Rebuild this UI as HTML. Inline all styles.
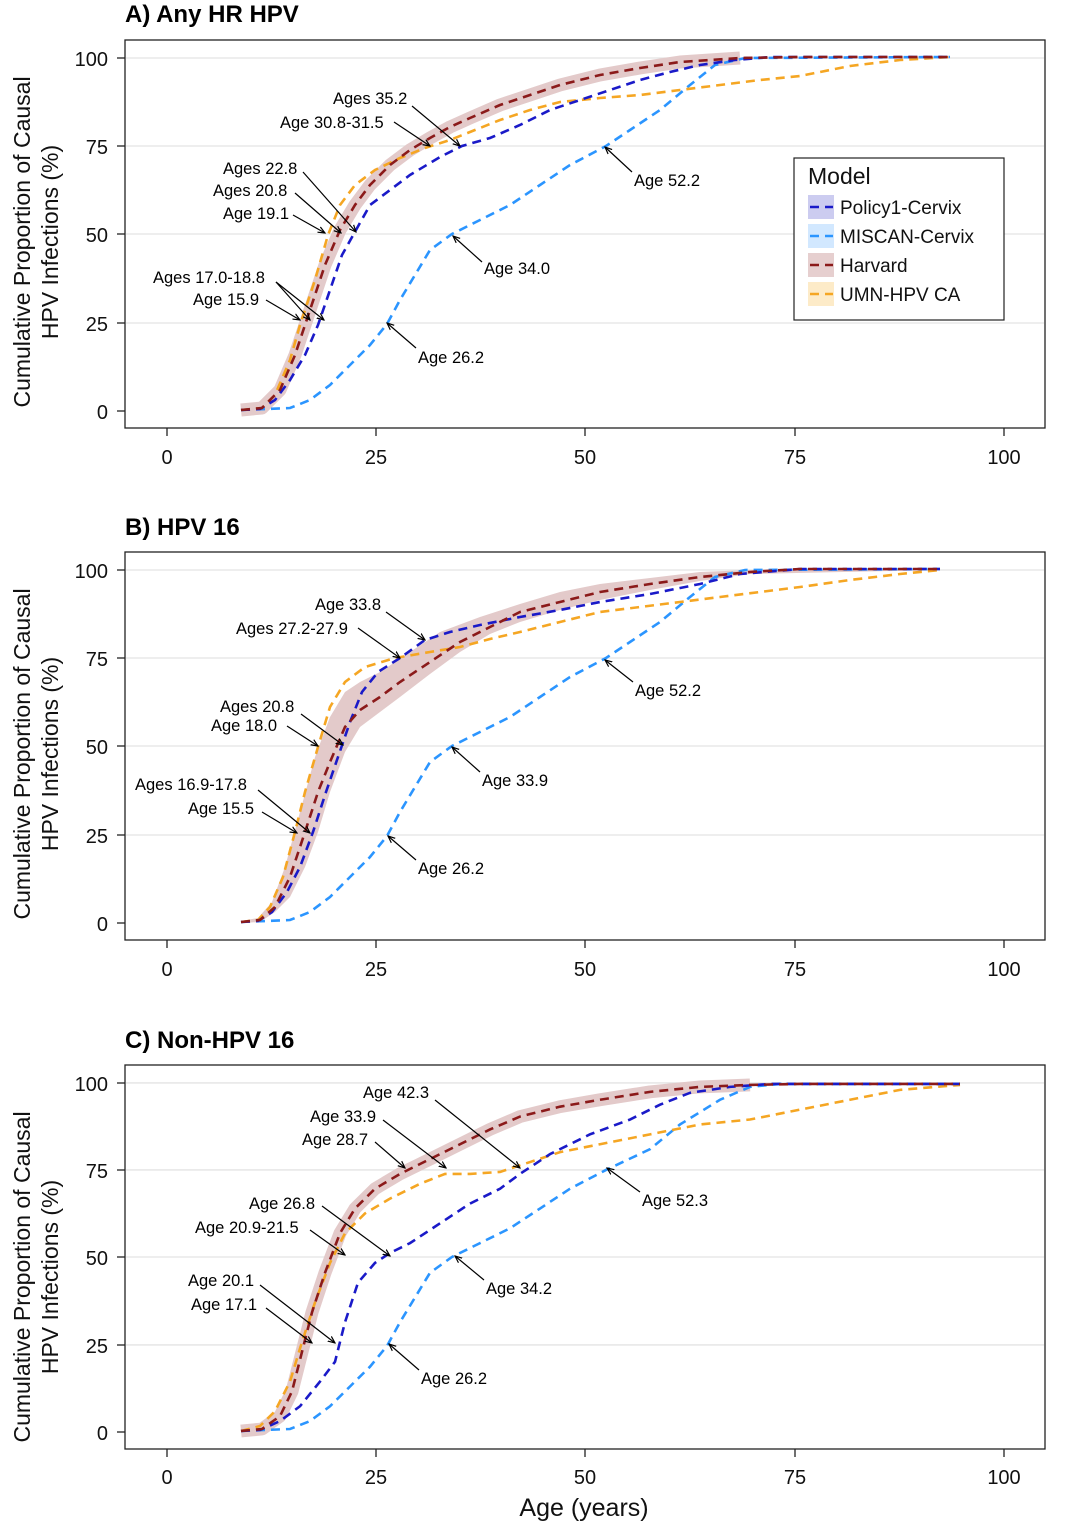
<!DOCTYPE html>
<html><head><meta charset="utf-8"><style>
body{margin:0;background:#fff}
svg{display:block;font-family:"Liberation Sans",Arial,sans-serif}
.t{font-size:16.5px;fill:#000}
.tk{font-size:20px;fill:#111}
.ti{font-size:24px;font-weight:bold}
.ar{stroke:#000;stroke-width:1.2;fill:none;marker-end:url(#ah)}
.grid{stroke:#e3e3e3;stroke-width:1.3}
.box{fill:none;stroke:#222;stroke-width:1.3}
.c{fill:none;stroke-width:2.6;stroke-dasharray:9 6}
.b1{stroke:#1a1ac8}.b2{stroke:#2b95ff}.b3{stroke:#8b1a1a}.b4{stroke:#f5a623}
.band{fill:none;stroke:#e3caca;stroke-width:13;stroke-linejoin:round;stroke-linecap:butt}
</style></head><body>
<svg width="1072" height="1525" viewBox="0 0 1072 1525">
<defs><marker id="ah" markerWidth="8" markerHeight="8" refX="7" refY="4" orient="auto" markerUnits="userSpaceOnUse"><path d="M0,1 L7,4 L0,7" fill="none" stroke="#000" stroke-width="1.2"/></marker>
<g id="frame">
<line class="grid" x1="126" x2="1044" y1="58" y2="58"/><line class="grid" x1="126" x2="1044" y1="146" y2="146"/><line class="grid" x1="126" x2="1044" y1="234" y2="234"/><line class="grid" x1="126" x2="1044" y1="323" y2="323"/>
<rect class="box" x="125" y="40" width="920" height="388"/>
<g stroke="#222" stroke-width="1.3"><line x1="117" x2="125" y1="58" y2="58"/><line x1="117" x2="125" y1="146" y2="146"/><line x1="117" x2="125" y1="234" y2="234"/><line x1="117" x2="125" y1="323" y2="323"/><line x1="117" x2="125" y1="411" y2="411"/>
<line x1="167" x2="167" y1="428" y2="436"/><line x1="376" x2="376" y1="428" y2="436"/><line x1="585" x2="585" y1="428" y2="436"/><line x1="795" x2="795" y1="428" y2="436"/><line x1="1004" x2="1004" y1="428" y2="436"/></g>
<g class="tk" text-anchor="end"><text x="108" y="66">100</text><text x="108" y="154">75</text><text x="108" y="242">50</text><text x="108" y="331">25</text><text x="108" y="419">0</text></g>
<g class="tk" text-anchor="middle"><text x="167" y="464">0</text><text x="376" y="464">25</text><text x="585" y="464">50</text><text x="795" y="464">75</text><text x="1004" y="464">100</text></g>
<g font-size="23" text-anchor="middle" fill="#111"><text transform="translate(30,242) rotate(-90)">Cumulative Proportion of Causal</text><text transform="translate(58,242) rotate(-90)">HPV Infections (%)</text></g>
</g></defs>

<text class="ti" x="125" y="22">A) Any HR HPV</text>
<use href="#frame"/>
<polyline class="band" points="241,410 262,408 280,390 295,355 310,310 325,265 340,230 355,205 370,185 390,165 410,150 430,138 450,127 470,118 500,105 530,95 560,85 600,75 640,68 680,62 740,58"/>
<polyline class="c b2" points="241,410 290,408 310,400 330,385 350,365 370,345 387,324 400,300 415,275 430,250 452,234 480,220 510,205 540,185 570,165 606,146 630,130 660,110 690,85 715,65 745,58 950,57"/>
<polyline class="c b4" points="241,410 262,408 275,395 290,360 300,325 315,280 328,235 340,205 355,185 375,170 400,158 425,148 450,140 470,132 500,120 530,110 560,102 600,98 640,95 680,90 720,85 760,80 800,76 850,66 900,60 950,57"/>
<polyline class="c b1" points="241,410 260,409 275,400 290,380 305,355 318,325 330,290 342,255 356,230 370,205 390,190 410,175 440,157 462,146 490,138 520,125 550,110 580,100 610,90 640,80 670,72 700,65 735,60 770,57 950,57"/>
<polyline class="c b3" points="241,410 262,408 280,390 295,355 310,310 325,265 340,230 355,205 370,185 390,165 410,150 430,138 450,127 470,118 500,105 530,95 560,85 600,75 640,68 680,62 740,58 800,57 950,57"/>
<g class="t">
<text x="333" y="104">Ages 35.2</text><text x="280" y="128">Age 30.8-31.5</text><text x="223" y="174">Ages 22.8</text><text x="213" y="196">Ages 20.8</text><text x="223" y="219">Age 19.1</text><text x="153" y="283">Ages 17.0-18.8</text><text x="193" y="305">Age 15.9</text><text x="634" y="186">Age 52.2</text><text x="484" y="274">Age 34.0</text><text x="418" y="363">Age 26.2</text></g>
<path class="ar" d="M412,106 L460,146"/><path class="ar" d="M394,122 L430,146"/><path class="ar" d="M303,172 L356,232"/><path class="ar" d="M295,193 L341,233"/><path class="ar" d="M293,215 L325,233"/><path class="ar" d="M276,282 L324,320"/><path class="ar" d="M276,282 L310,320"/><path class="ar" d="M266,300 L300,320"/><path class="ar" d="M632,172 L605,147"/><path class="ar" d="M482,262 L453,236"/><path class="ar" d="M416,348 L387,323"/>
<rect x="794" y="158" width="210" height="162" fill="#fff" stroke="#222" stroke-width="1.2"/>
<text x="808" y="184" font-size="23" fill="#111">Model</text>
<rect x="808" y="195" width="26" height="24" fill="#ccccf0"/><line class="c b1" x1="810" x2="833" y1="207" y2="207"/>
<rect x="808" y="224" width="26" height="24" fill="#d2e8ff"/><line class="c b2" x1="810" x2="833" y1="236" y2="236"/>
<rect x="808" y="253" width="26" height="24" fill="#e6cfcf"/><line class="c b3" x1="810" x2="833" y1="265" y2="265"/>
<rect x="808" y="282" width="26" height="24" fill="#fdebc8"/><line class="c b4" x1="810" x2="833" y1="294" y2="294"/>
<g font-size="19" fill="#111"><text x="840" y="214">Policy1-Cervix</text><text x="840" y="243">MISCAN-Cervix</text><text x="840" y="272">Harvard</text><text x="840" y="301">UMN-HPV CA</text></g>

<text class="ti" x="125" y="535">B) HPV 16</text>
<g transform="translate(0,512)">
<use href="#frame"/>
<polygon fill="#e3caca" points="241,409 258,406 272,390 285,355 300,300 315,245 330,205 345,180 360,170 380,160 410,140 440,120 480,105 520,92 560,80 600,72 650,66 700,60 750,58 940,57 940,58 750,62 700,69 650,78 600,88 560,98 520,110 490,122 460,140 430,162 400,185 380,200 360,215 345,240 330,280 318,320 305,355 290,385 275,400 260,410 241,411"/>
<polyline class="c b2" points="241,410 290,408 310,400 330,385 350,365 370,345 387,324 400,300 415,275 430,250 452,234 480,220 510,205 540,185 570,165 606,146 630,130 660,110 690,85 715,65 745,58 940,57"/>
<polyline class="c b4" points="241,410 258,408 270,395 283,365 295,320 305,280 318,235 330,195 345,170 365,155 395,146 430,140 460,135 490,127 520,120 560,110 600,100 640,95 680,90 720,85 760,80 800,75 850,68 900,62 940,58"/>
<polyline class="c b1" points="241,410 258,409 272,400 287,380 300,355 313,320 326,280 338,245 350,210 362,180 378,160 400,146 425,128 450,120 480,113 520,105 560,98 600,90 650,82 700,72 740,62 800,57 940,57"/>
<polyline class="c b3" points="241,410 260,408 275,395 290,365 305,320 318,280 330,250 345,215 360,198 380,185 400,170 430,150 460,130 490,115 520,100 560,90 600,80 650,72 700,65 750,60 800,57 940,57"/>
</g>
<g class="t">
<text x="315" y="610">Age 33.8</text><text x="236" y="634">Ages 27.2-27.9</text><text x="220" y="712">Ages 20.8</text><text x="211" y="731">Age 18.0</text><text x="135" y="790">Ages 16.9-17.8</text><text x="188" y="814">Age 15.5</text><text x="635" y="696">Age 52.2</text><text x="482" y="786">Age 33.9</text><text x="418" y="874">Age 26.2</text></g>
<path class="ar" d="M386,612 L425,640"/><path class="ar" d="M358,628 L400,658"/><path class="ar" d="M301,714 L343,745"/><path class="ar" d="M287,726 L318,746"/><path class="ar" d="M258,790 L310,833"/><path class="ar" d="M262,812 L297,833"/><path class="ar" d="M633,682 L605,660"/><path class="ar" d="M480,772 L452,747"/><path class="ar" d="M416,860 L388,836"/>

<text class="ti" x="125" y="1048">C) Non-HPV 16</text>
<g transform="matrix(1,0,0,0.9887,0,1025.6)">
<line class="grid" x1="126" x2="1044" y1="58" y2="58"/><line class="grid" x1="126" x2="1044" y1="146" y2="146"/><line class="grid" x1="126" x2="1044" y1="234" y2="234"/><line class="grid" x1="126" x2="1044" y1="323" y2="323"/>
<polyline class="band" points="241,410 262,408 280,395 292,370 302,330 312,290 325,250 340,210 355,185 375,165 400,150 430,135 460,120 490,105 520,92 560,82 600,75 650,67 700,62 750,60"/>
<polyline class="c b2" points="241,410 290,408 310,400 330,385 350,365 370,345 387,324 400,300 415,275 430,250 452,234 480,220 510,205 540,185 570,165 606,146 650,125 680,100 720,75 750,62 780,59 960,59"/>
<polyline class="c b4" points="241,410 260,405 275,390 290,360 302,320 315,280 330,240 345,210 365,190 390,175 420,160 445,150 470,150 500,148 530,138 560,128 600,120 650,110 700,100 750,95 800,85 850,75 900,65 960,60"/>
<polyline class="c b1" points="241,410 260,409 280,400 300,385 320,360 335,340 345,300 358,260 375,240 390,230 410,220 440,200 470,180 500,165 520,150 550,130 590,110 630,95 660,80 690,68 730,62 770,59 960,59"/>
<polyline class="c b3" points="241,410 262,408 280,395 292,370 302,330 312,290 325,250 340,210 355,185 375,165 400,150 430,135 460,120 490,105 520,92 560,82 600,75 650,67 700,62 750,60 800,59 960,59"/>
</g>
<rect class="box" x="125" y="1065" width="920" height="384"/>
<g stroke="#222" stroke-width="1.3"><line x1="117" x2="125" y1="1083" y2="1083"/><line x1="117" x2="125" y1="1170" y2="1170"/><line x1="117" x2="125" y1="1257" y2="1257"/><line x1="117" x2="125" y1="1345" y2="1345"/><line x1="117" x2="125" y1="1432" y2="1432"/>
<line x1="167" x2="167" y1="1449" y2="1457"/><line x1="376" x2="376" y1="1449" y2="1457"/><line x1="585" x2="585" y1="1449" y2="1457"/><line x1="795" x2="795" y1="1449" y2="1457"/><line x1="1004" x2="1004" y1="1449" y2="1457"/></g>
<g class="tk" text-anchor="end"><text x="108" y="1091">100</text><text x="108" y="1178">75</text><text x="108" y="1265">50</text><text x="108" y="1353">25</text><text x="108" y="1440">0</text></g>
<g class="tk" text-anchor="middle"><text x="167" y="1484">0</text><text x="376" y="1484">25</text><text x="585" y="1484">50</text><text x="795" y="1484">75</text><text x="1004" y="1484">100</text></g>
<g font-size="23" text-anchor="middle" fill="#111"><text transform="translate(30,1277) rotate(-90)">Cumulative Proportion of Causal</text><text transform="translate(58,1277) rotate(-90)">HPV Infections (%)</text></g>
<text x="584" y="1516" font-size="25" text-anchor="middle" fill="#111">Age (years)</text>
<g class="t">
<text x="363" y="1098">Age 42.3</text><text x="310" y="1122">Age 33.9</text><text x="302" y="1145">Age 28.7</text><text x="249" y="1209">Age 26.8</text><text x="195" y="1233">Age 20.9-21.5</text><text x="188" y="1286">Age 20.1</text><text x="191" y="1310">Age 17.1</text><text x="642" y="1206">Age 52.3</text><text x="486" y="1294">Age 34.2</text><text x="421" y="1384">Age 26.2</text></g>
<path class="ar" d="M435,1100 L520,1168"/><path class="ar" d="M383,1120 L446,1168"/><path class="ar" d="M375,1142 L405,1168"/><path class="ar" d="M322,1206 L390,1256"/><path class="ar" d="M310,1230 L345,1255"/><path class="ar" d="M260,1285 L335,1343"/><path class="ar" d="M266,1308 L312,1343"/><path class="ar" d="M640,1192 L607,1168"/><path class="ar" d="M484,1280 L455,1256"/><path class="ar" d="M419,1370 L389,1344"/>
</svg>
</body></html>
